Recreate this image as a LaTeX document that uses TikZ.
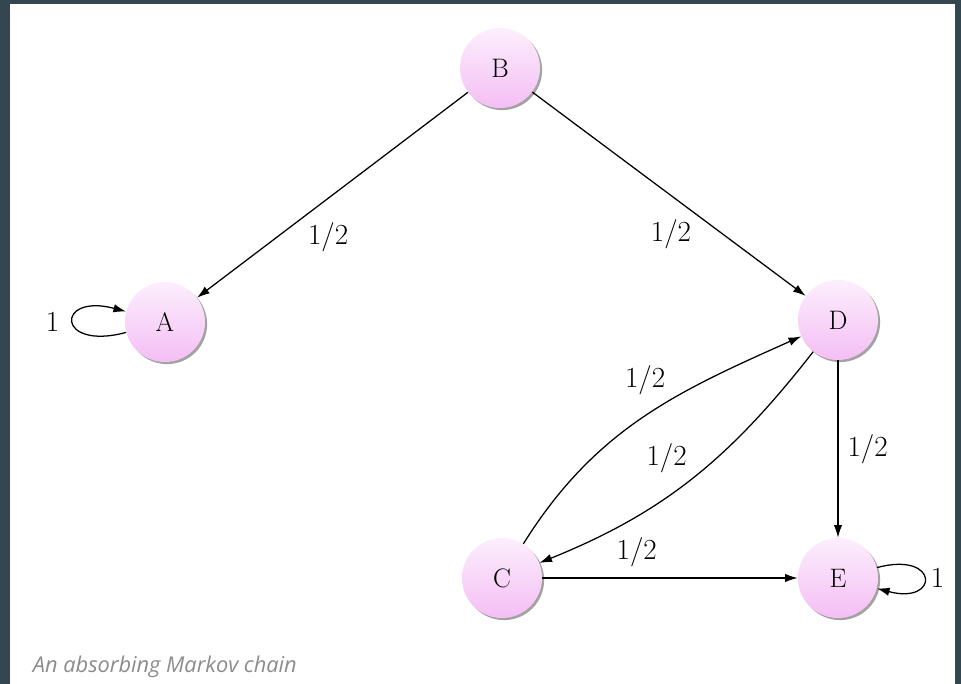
\documentclass[tikz,border=0pt]{standalone}
\usepackage{fontspec}
\newfontfamily\captionfont{Open Sans}
\usepackage{tikz}
\usetikzlibrary{
	arrows.meta,
	shadows,
	positioning
}
\definecolor{statepink}{RGB}{244,190,244}
\definecolor{framegray}{RGB}{52,70,80}
\definecolor{captiongray}{RGB}{140,140,140}

\begin{document}
\begin{tikzpicture}[x=0.025cm, y=-0.025cm,
	state/.style={circle, minimum size=2cm, inner sep=0pt,
		top color=statepink!25, bottom color=statepink,
		drop shadow={shadow xshift=1.5pt, shadow yshift=-1.5pt, opacity=0.6, fill=black!60},
		font=\fontsize{19}{22}\selectfont},
	edge/.style={->, >={Latex[length=9pt, width=6pt]}, line width=0.9pt},
	prob/.style={font=\fontsize{20}{24}\selectfont}]
	\useasboundingbox (0,0) rectangle (961,684);
	
	% 画外框
	\fill[framegray] (0,0) rectangle (961,684);
	\fill[white] (10,4) rectangle (955,684);
	
	% 状态
	\node[state] (B) at (500,68) {B};
	\node[state] (A) at (165,322) {A};
	\node[state] (D) at (838,320) {D};
	\node[state] (C) at (502,578) {C};
	\node[state] (E) at (838,578) {E};
	
	% 转移
	\draw[edge] (B) -- node[prob, pos=0.61, below right] {$1/2$} (A);
	\draw[edge] (B) -- node[prob, pos=0.60, below left] {$1/2$} (D);
	\draw[edge] (C) to[out=58, in=204] node[prob, pos=0.6, above left] {$1/2$} (D);
	\draw[edge] (D) to[out=232, in=22] node[prob, pos=0.5, above left] {$1/2$} (C);
	\draw[edge] (D) -- node[prob, right=3pt] {$1/2$} (E);
	\draw[edge] (C) -- node[prob, pos=0.37, above=4pt] {$1/2$} (E);
	\draw[edge] (A) to[loop left, looseness=9] node[prob, left=6pt] {$1$} (A);
	\draw[edge] (E) to[loop right, looseness=8] node[prob, right=1pt] {$1$} (E);
	
	% 标题
	\node[font=\captionfont\itshape\fontsize{15.5}{18}\selectfont, text=captiongray, anchor=base west] (caption) at (28,672) {An absorbing Markov chain};
\end{tikzpicture}
\end{document}
